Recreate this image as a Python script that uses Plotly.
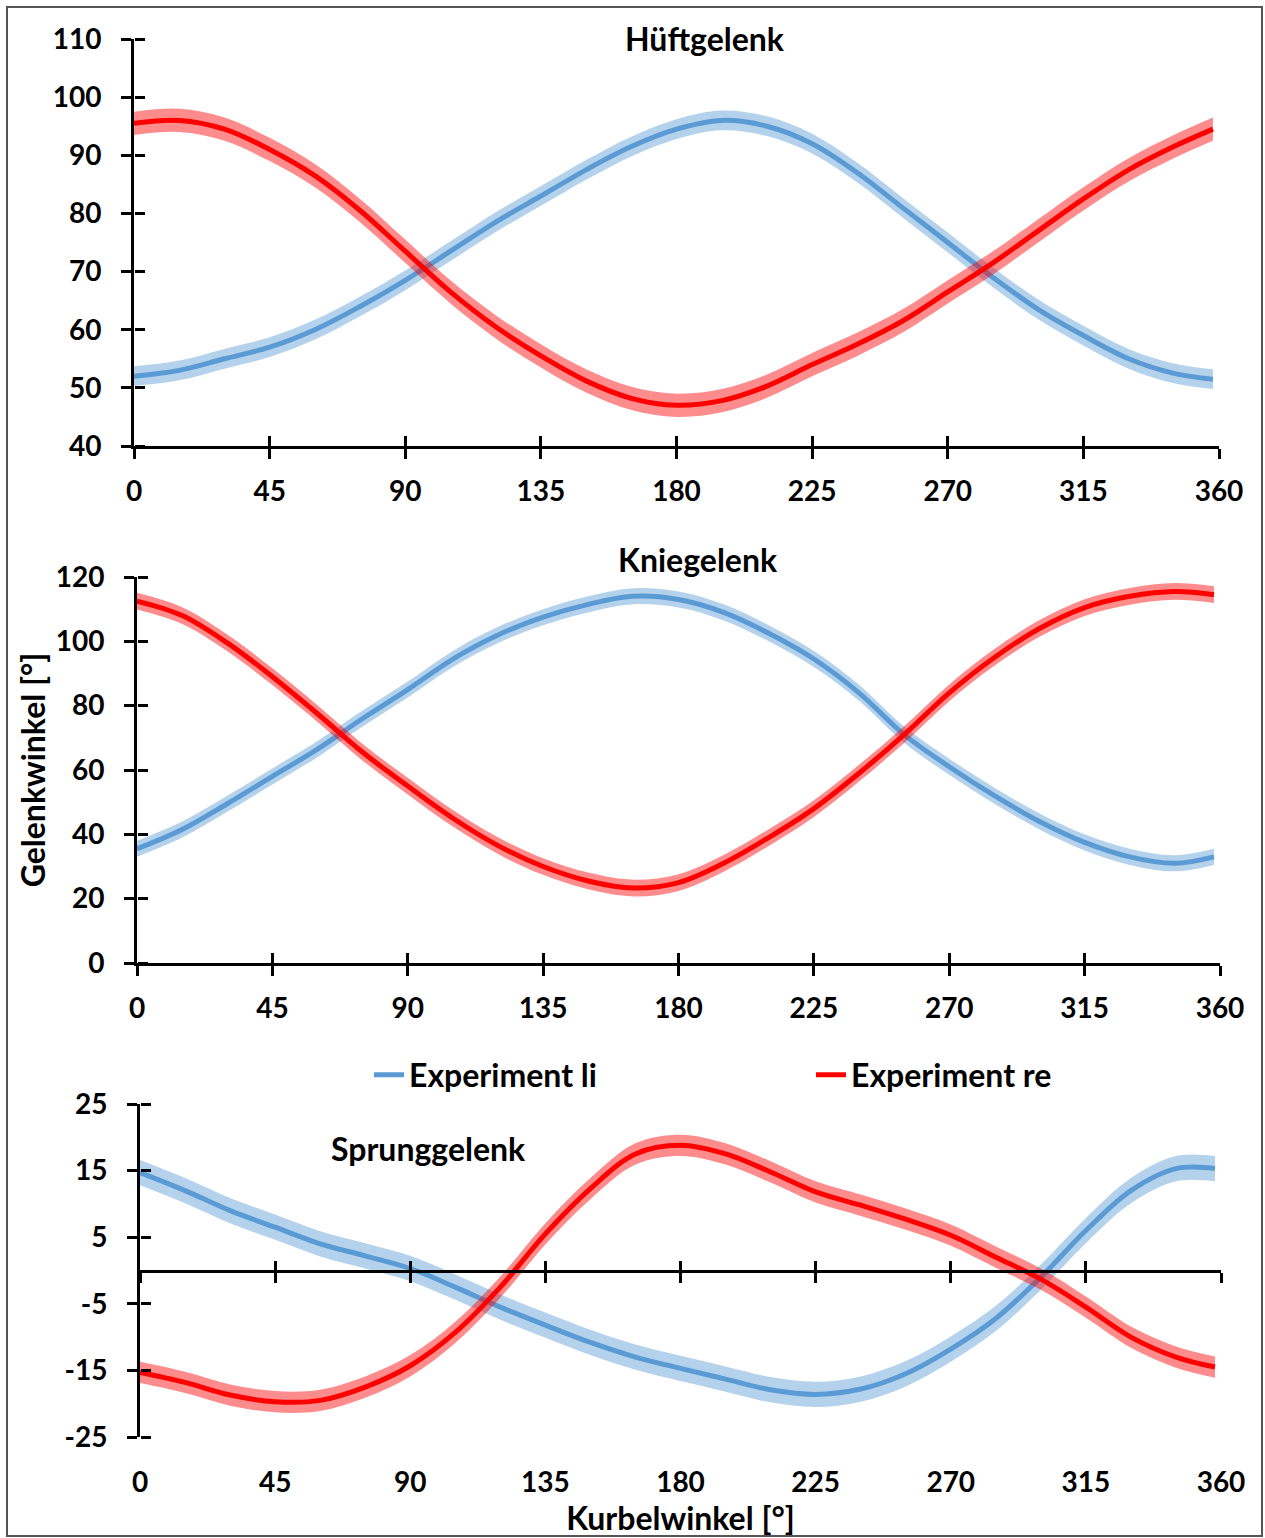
import plotly.graph_objects as go

# ---------------- data ----------------
angles = [0, 15, 30, 45, 60, 75, 90, 105, 120, 135, 150, 165, 180,
          195, 210, 225, 240, 255, 270, 285, 300, 315, 330, 345, 358]

hip_li = [52, 53, 55, 57, 60, 64, 68.5, 73.5, 78.5, 83, 87.5, 91.5, 94.5,
          96, 95, 92, 87, 81, 75, 69, 63.5, 59, 55, 52.5, 51.5]
hip_re = [95.5, 96, 94.5, 91, 86.5, 80.5, 73.5, 66.5, 60.5, 55.5, 51.2, 48.2, 47,
          47.8, 50.3, 54, 57.5, 61.5, 66.5, 71.5, 77, 82.5, 87.5, 91.5, 94.5]

knee_li = [35.5, 41.5, 49.5, 58, 66.5, 76, 85, 94.5, 102, 107.5, 111.5, 114, 113,
           109, 102.5, 94.5, 84, 71, 61, 52, 44, 37.5, 33, 31, 33]
knee_re = [112.5, 108, 99.5, 89, 77.5, 65.5, 55, 45, 36.5, 30, 25.5, 23.3, 25,
           31, 39, 48, 59, 71, 84, 95, 104, 110.5, 114, 115.5, 114.5]

ankle_li = [14.7, 12, 9, 6.5, 4, 2.2, 0.3, -2.5, -5.5, -8.2, -10.8, -13, -14.7,
            -16.3, -17.9, -18.6, -17.8, -15.5, -11.8, -7.2, -1, 6, 12, 15.3, 15.3]
ankle_re = [-15.3, -16.8, -18.7, -19.7, -19.5, -17.5, -14.3, -9.3, -2.5, 5.5, 12.3, 17.5, 18.8,
            17.5, 14.8, 11.8, 9.8, 7.7, 5.3, 2.0, -1.3, -5.5, -10, -13, -14.5]

# band half-widths (standard deviation) per series
hip_li_sd, hip_re_sd = 1.7, 2.0
knee_li_sd, knee_re_sd = 2.5, 2.6
ankle_li_sd, ankle_re_sd = 1.9, 1.6

series_names = ["Experiment li", "Experiment re"]
x_ticks = [0, 45, 90, 135, 180, 225, 270, 315, 360]
hip_ticks = [40, 50, 60, 70, 80, 90, 100, 110]
knee_ticks = [0, 20, 40, 60, 80, 100, 120]
ankle_ticks = [-25, -15, -5, 5, 15, 25]
titles = ["Hüftgelenk", "Kniegelenk", "Sprunggelenk"]
y_title = "Gelenkwinkel [°]"
x_title = "Kurbelwinkel [°]"

# ---------------- styling ----------------
W, H = 1265, 1538
BLUE = "#5B9BD5"
RED = "#FF0000"
BLUE_BAND = "rgba(91,155,213,0.45)"
RED_BAND = "rgba(255,0,0,0.45)"
FONT = "Lato"
TICKSIZE = 28
TEXTSIZE = 32


def px(x):
    return x / W


def py(y):
    return 1 - y / H


fig = go.Figure()


def add_series(xa, ya, vals, sd, color, band, name, legend):
    up = [v + sd for v in vals]
    lo = [v - sd for v in vals]
    fig.add_trace(go.Scatter(x=angles, y=up, xaxis=xa, yaxis=ya, mode="lines",
                             line=dict(width=0, shape="spline", color=band),
                             showlegend=False, hoverinfo="skip"))
    fig.add_trace(go.Scatter(x=angles, y=lo, xaxis=xa, yaxis=ya, mode="lines",
                             line=dict(width=0, shape="spline", color=band),
                             fill="tonexty", fillcolor=band,
                             showlegend=False, hoverinfo="skip"))
    fig.add_trace(go.Scatter(x=angles, y=vals, xaxis=xa, yaxis=ya, mode="lines",
                             line=dict(width=5, shape="spline", color=color),
                             name=name, showlegend=legend))


add_series("x", "y", hip_li, hip_li_sd, BLUE, BLUE_BAND, series_names[0], True)
add_series("x", "y", hip_re, hip_re_sd, RED, RED_BAND, series_names[1], True)
add_series("x2", "y2", knee_li, knee_li_sd, BLUE, BLUE_BAND, series_names[0], False)
add_series("x2", "y2", knee_re, knee_re_sd, RED, RED_BAND, series_names[1], False)
add_series("x3", "y3", ankle_li, ankle_li_sd, BLUE, BLUE_BAND, series_names[0], False)
add_series("x3", "y3", ankle_re, ankle_re_sd, RED, RED_BAND, series_names[1], False)

# empty traces so the overlay axes (inner halves of the crossing ticks, label axis) are drawn
for xa, ya in [("x4", "y"), ("x", "y4"), ("x5", "y2"), ("x2", "y5"),
               ("x6", "y3"), ("x3", "y6"), ("x7", "y3")]:
    fig.add_trace(go.Scatter(x=[], y=[], xaxis=xa, yaxis=ya, showlegend=False,
                             hoverinfo="skip"))

tickfont = dict(family=FONT, size=TICKSIZE, color="black", weight="bold")
textfont = dict(family=FONT, size=TEXTSIZE, color="black", weight="bold")
common = dict(showgrid=False, zeroline=False, linecolor="black", linewidth=3,
              tickcolor="black", tickwidth=3, ticklen=10, tickfont=tickfont,
              tickmode="array", automargin=False)


def ylab(vals):
    return [str(v) for v in vals]


d1x = [px(134), px(1219)]
d2x = [px(137), px(1220)]
d3x = [px(140), px(1221)]
d1y = [py(446), py(39)]
d2y = [py(963), py(577)]
d3y = [py(1437), py(1104)]
zero_pos = (d3y[0] + d3y[1]) / 2

lay = dict(
    width=W, height=H, margin=dict(l=0, r=0, t=0, b=0, autoexpand=False),
    paper_bgcolor="white", plot_bgcolor="rgba(0,0,0,0)",
    font=dict(family=FONT, color="black"),
    # plot 1
    xaxis=dict(common, domain=d1x, anchor="y", range=[0, 360], tickvals=x_ticks,
               showline=True, ticks="outside", ticklabelstandoff=8),
    yaxis=dict(common, domain=d1y, anchor="x", range=[40, 110], tickvals=hip_ticks,
               ticktext=ylab(hip_ticks),
               showline=True, ticks="outside", ticklabelstandoff=14),
    xaxis4=dict(common, overlaying="x", anchor="y", range=[0, 360], tickvals=x_ticks,
                showline=False, ticks="inside", showticklabels=False),
    yaxis4=dict(common, overlaying="y", anchor="free", position=d1x[0], side="right",
                range=[40, 110], tickvals=hip_ticks, showline=False, ticks="outside",
                showticklabels=False),
    # plot 2
    xaxis2=dict(common, domain=d2x, anchor="y2", range=[0, 360], tickvals=x_ticks,
                showline=True, ticks="outside", ticklabelstandoff=8),
    yaxis2=dict(common, domain=d2y, anchor="x2", range=[0, 120], tickvals=knee_ticks,
                ticktext=ylab(knee_ticks),
                showline=True, ticks="outside", ticklabelstandoff=14,
                title=dict(text=y_title, standoff=1, font=textfont)),
    xaxis5=dict(common, overlaying="x2", anchor="y2", range=[0, 360], tickvals=x_ticks,
                showline=False, ticks="inside", showticklabels=False),
    yaxis5=dict(common, overlaying="y2", anchor="free", position=d2x[0], side="right",
                range=[0, 120], tickvals=knee_ticks, showline=False, ticks="outside",
                showticklabels=False),
    # plot 3
    xaxis3=dict(common, domain=d3x, anchor="free", position=zero_pos, range=[0, 360],
                tickvals=x_ticks, showline=True, ticks="outside", showticklabels=False),
    yaxis3=dict(common, domain=d3y, anchor="x3", range=[-25, 25], tickvals=ankle_ticks,
                ticktext=ylab(ankle_ticks),
                showline=True, ticks="outside", ticklabelstandoff=14),
    xaxis6=dict(common, overlaying="x3", anchor="free", position=zero_pos, range=[0, 360],
                tickvals=x_ticks, showline=False, ticks="inside", showticklabels=False),
    yaxis6=dict(common, overlaying="y3", anchor="free", position=d3x[0], side="right",
                range=[-25, 25], tickvals=ankle_ticks, showline=False, ticks="outside",
                showticklabels=False),
    xaxis7=dict(common, overlaying="x3", anchor="y3", range=[0, 360], tickvals=x_ticks,
                showline=False, ticks="", showticklabels=True, ticklabelstandoff=26,
                title=dict(text=x_title, standoff=6, font=textfont)),
    legend=dict(orientation="h", x=px(369), xanchor="left", y=py(1075), yanchor="middle",
                entrywidth=397, entrywidthmode="pixels", traceorder="normal",
                font=textfont, bgcolor="rgba(0,0,0,0)"),
    showlegend=True,
)
fig.update_layout(lay)

title_pos = [(705, 38), (698, 559), (428, 1148)]
for t, (tx, ty) in zip(titles, title_pos):
    fig.add_annotation(text=t, x=px(tx), y=py(ty), xref="paper", yref="paper",
                       showarrow=False, xanchor="center", yanchor="middle",
                       font=textfont)

# outer frame
fig.add_shape(type="rect", xref="paper", yref="paper",
              x0=px(7), x1=px(1262), y0=py(1536), y1=py(7),
              line=dict(color="#555555", width=2), layer="below")

fig.write_html("out.html", post_script="document.body.style.margin='0';",
               config={"displayModeBar": False})
